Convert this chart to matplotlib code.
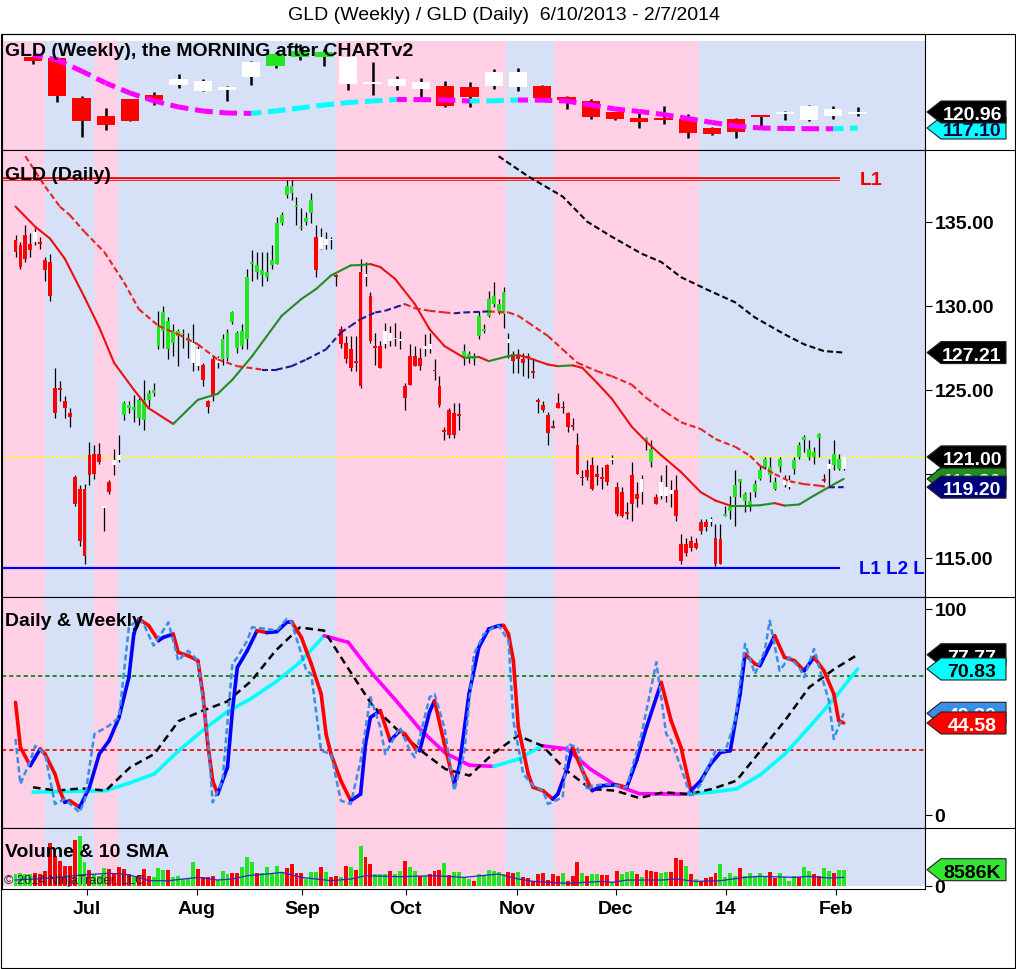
import numpy as np
import matplotlib
matplotlib.use('Agg')
import matplotlib.pyplot as plt
from matplotlib.collections import LineCollection
from matplotlib.patches import Polygon, Rectangle
from matplotlib.lines import Line2D
from matplotlib.transforms import IdentityTransform

plt.rcParams['font.family'] = ['Liberation Sans', 'DejaVu Sans']
plt.rcParams['lines.scale_dashes'] = False

# ---------------- data ----------------
title = "GLD (Weekly) / GLD (Daily)  6/10/2013 - 2/7/2014"

tick_pos = [14.5, 36.8, 58.1, 79.2, 101.7, 121.8, 144.1, 166.4]
tick_lab = ['Jul', 'Aug', 'Sep', 'Oct', 'Nov', 'Dec', '14', 'Feb']

PINK, BLUE = '#FFD0E6', '#D6E0F6'
shade_spans = [(-2.74, 6.0, PINK), (6.0, 15.9, BLUE), (15.9, 20.8, PINK),
               (20.8, 65.0, BLUE), (65.0, 99.5, PINK), (99.5, 109.2, BLUE),
               (109.2, 138.6, PINK), (138.6, 184.5, BLUE)]

# weekly candles
w_open = [134.3,134.0,124.3,120.0,124.1,125.1,127.5,126.0,126.3,129.4,132.1,134.2,134.2,127.7,127.7,127.2,126.5,127.2,127.0,127.2,
          127.0,127.2,124.6,123.6,121.0,119.5,119.5,119.3,117.1,119.3,120.2,120.5,119.0,120.0,120.5]
w_high = [134.4,134.3,124.8,121.9,124.2,125.8,130.1,128.9,127.2,133.3,135.5,137.4,136.2,134.4,133.0,129.6,129.2,128.4,128.2,131.3,
          131.6,127.5,124.8,124.1,121.0,121.0,122.4,120.5,117.3,119.5,120.2,121.2,122.6,122.4,122.2]
w_low = [132.5,123.4,114.9,116.6,118.7,122.6,126.7,126.0,123.6,127.5,131.6,133.5,132.1,126.3,125.1,126.3,124.6,122.2,122.2,126.5,
         126.0,124.0,121.7,119.3,119.0,117.1,118.1,114.7,115.4,114.7,117.1,119.0,118.8,119.3,120.0]
w_close = [133.2,124.8,118.8,117.8,118.8,123.9,128.9,128.4,127.0,133.0,134.9,135.7,135.4,134.2,128.2,128.9,128.2,122.4,124.6,130.6,
           130.6,124.3,123.9,119.8,119.3,118.5,119.0,115.9,115.7,116.1,119.8,121.0,122.4,121.7,120.96]
w_cols = "rrrrrrwwwwgggwwwwrrwwrrrrrrrrrrwwww"
w_ma = [134.71,133.51,130.85,127.96,125.54,123.61,122.17,121.20,120.72,120.62,121.20,121.92,122.65,123.25,123.61,123.98,123.95,
        123.86,123.61,123.66,123.86,123.81,123.61,122.65,121.68,121.08,120.36,119.39,118.43,117.58,117.10,116.98,116.93,116.91,117.10]
WK0, WK_STEP = 3.55, 4.92

# daily candles
d_open = [133.9,133.6,134.2,133.7,133.8,133.8,132.7,132.6,125.1,125.1,
          124.3,123.6,119.8,119.1,119.1,121.1,121.2,121.2,118.0,119.5,
          120.5,120.8,123.5,123.9,123.8,123.3,123.2,124.4,124.8,127.6,
          128.5,127.4,127.8,128.2,128.3,127.9,127.8,127.4,126.5,124.3,
          126.8,126.6,126.8,126.9,129.05,128.4,127.6,128.0,132.5,132.0,
          131.8,131.7,132.4,132.5,134.9,136.6,136.7,135.9,134.6,135.0,
          135.5,134.1,133.4,133.6,133.9,131.8,128.6,127.8,127.4,126.7,
          125.2,131.7,130.6,127.6,127.6,127.7,127.9,128.0,127.9,125.2,
          127.0,127.0,126.9,127.4,127.4,126.2,125.2,122.6,123.8,123.6,
          123.5,126.9,126.9,126.8,128.2,128.5,129.4,130.1,129.7,129.5,
          127.8,127.1,127.0,126.8,127.0,126.1,124.35,124.1,123.5,122.8,
          124.2,124.0,123.6,122.9,121.7,119.8,120.2,120.5,120.0,119.8,
          120.5,120.9,119.2,118.9,117.7,119.9,118.8,118.9,121.8,120.7,
          118.6,118.7,118.7,119.0,119.0,115.8,115.8,116.0,115.9,117.1,
          117.1,117.3,116.2,116.1,117.5,117.8,118.6,119.5,118.4,118.0,
          118.9,119.7,120.4,119.9,119.1,120.4,119.3,119.2,120.3,121.0,
          122.0,121.0,121.0,122.15,119.6,120.3,120.5,120.3,120.3]
d_high = [134.2,133.8,134.8,134.3,134.6,134.1,132.9,133.1,126.3,125.5,
          124.6,123.9,119.9,119.3,119.4,121.9,121.7,121.8,118.1,119.6,
          121.5,122.3,124.3,124.3,124.7,124.5,125.6,125.0,125.4,129.7,
          130.0,129.3,128.9,128.6,128.6,128.4,128.9,127.6,126.6,124.4,
          127.0,127.0,128.3,128.6,129.7,128.5,128.9,132.2,133.3,133.2,
          133.2,133.2,133.6,135.3,135.6,137.5,137.5,136.5,135.8,135.6,
          136.7,134.8,134.6,134.4,134.1,131.9,128.8,128.2,128.2,128.2,
          132.8,132.6,130.8,128.4,127.9,129.0,128.8,129.0,128.5,125.4,
          127.7,127.6,127.5,128.3,128.4,126.8,125.8,122.8,123.9,124.2,
          124.2,127.7,127.3,127.2,129.7,128.9,130.9,131.4,130.4,131.1,
          128.4,127.3,127.4,127.2,127.2,126.9,124.5,124.3,123.7,123.2,
          124.8,124.3,123.7,123.3,122.4,120.2,120.8,121.0,120.5,120.4,
          120.6,121.1,119.5,119.2,118.3,120.7,119.5,119.9,122.2,122.0,
          118.8,119.9,120.5,119.6,119.9,116.4,116.2,116.3,116.2,117.3,
          117.3,117.4,117.0,117.0,118.1,118.7,120.2,119.7,118.9,118.9,
          119.6,120.5,121.0,121.0,119.8,121.0,119.9,119.9,121.0,121.9,
          122.3,122.0,121.6,122.4,120.0,120.9,122.0,121.2,121.0]
d_low = [132.9,132.2,132.6,132.9,133.6,133.4,131.5,130.3,123.3,124.3,
         123.3,122.8,118.1,115.7,114.6,119.3,119.7,120.6,116.6,118.8,
         119.9,120.7,123.2,123.6,123.1,122.9,122.6,124.0,124.6,127.4,
         127.5,126.8,127.0,126.4,127.5,126.9,126.1,126.2,125.2,123.6,
         124.3,126.3,126.5,126.7,128.9,127.2,127.4,127.4,131.5,131.6,
         131.2,131.5,132.2,132.5,134.8,136.4,136.3,134.8,134.5,134.8,
         134.9,131.7,133.4,133.4,133.4,131.2,127.5,126.6,126.1,126.1,
         125.1,131.2,127.8,126.5,126.3,127.5,127.6,127.6,127.4,123.8,
         125.3,126.4,126.2,127.0,127.2,125.6,124.0,122.0,122.1,122.1,
         122.6,126.5,126.6,126.5,128.0,128.4,129.3,129.9,129.5,128.7,
         126.9,126.0,126.0,125.8,125.7,125.7,123.6,123.7,121.7,122.7,
         123.9,123.6,122.5,122.6,120.0,119.3,119.6,119.0,119.3,119.1,
         119.3,120.6,117.5,117.4,117.3,117.2,118.0,118.2,121.4,120.4,
         118.2,118.5,118.3,118.0,117.2,114.6,115.1,115.4,115.5,116.4,
         116.6,116.9,114.5,114.6,117.5,117.3,116.9,118.6,117.7,117.8,
         118.6,119.6,120.3,119.5,119.0,120.1,119.2,119.1,120.0,120.9,
         121.3,120.8,120.6,121.0,119.5,119.2,120.2,120.2,120.2]
d_close = [133.2,132.3,132.8,133.3,134.4,133.7,132.1,130.6,123.6,125.0,
           123.9,123.4,118.2,116.0,115.1,119.9,120.0,120.7,118.05,118.9,
           120.8,121.1,124.2,124.1,124.0,124.4,124.4,124.8,125.0,128.8,
           129.6,129.1,128.5,128.5,128.4,128.1,126.6,126.4,125.6,124.0,
           124.7,126.9,128.0,128.4,129.6,127.5,128.5,131.7,132.6,132.4,
           132.1,132.0,132.7,134.9,135.4,137.1,137.1,136.0,134.7,135.2,
           136.3,132.1,134.1,134.0,134.0,131.7,127.7,126.8,126.3,126.6,
           132.0,131.9,127.9,127.5,126.3,128.5,128.4,128.1,128.0,124.5,
           125.3,126.4,126.4,127.6,127.7,126.1,124.1,122.5,122.3,122.3,
           123.45,127.3,127.1,127.0,129.4,128.6,130.4,130.6,130.1,130.8,
           128.0,126.7,126.8,126.6,126.95,126.0,124.3,123.8,122.4,122.75,
           123.9,123.9,122.8,122.8,120.0,119.75,119.8,119.1,119.8,119.7,
           119.5,120.85,117.6,117.5,117.6,118.2,118.5,119.7,122.1,121.5,
           118.2,119.5,119.2,118.8,117.5,114.8,115.3,115.6,115.6,116.6,
           116.8,117.1,114.6,114.6,117.6,118.0,119.3,119.7,118.8,118.4,
           119.4,120.2,120.9,120.4,119.5,120.9,119.6,119.6,120.8,121.7,
           122.2,121.5,121.3,122.35,119.65,120.6,121.2,120.9,121.0]
d_cols = ("rrrrwrrrrr" "rrrrrrrrwr" "wwgggggggg" "ggggggwwrr" "rwgggggggg"
          "gggggggggg" "grwwwrrrrr" "rwrrrwwwwr" "rrrwwrrrrr" "rggggggggg"
          "wrrrrrrrrr" "rrrrrrrrrr" "rwrrrrrwgg" "rwwwrrrrrr" "rwrrgggggg"
          "ggggggwwgg" "ggggrwggw")

fast_i = [0, 4, 7, 10, 14, 17, 20, 24, 27, 32, 37, 41, 44, 48, 51, 54, 58, 61, 64, 68, 70, 72, 74, 77, 81, 84, 87, 91, 94, 96,
          100, 102, 104, 108, 110, 113, 115, 118, 121, 125, 128, 131, 135, 139, 142, 145, 149, 151, 154, 156, 159, 162, 165, 168]
fast_v = [135.9, 134.7, 134.0, 132.8, 130.5, 128.7, 126.6, 125.0, 123.9, 122.96, 124.4, 124.75, 125.6, 127.0, 128.2, 129.4,
          130.4, 131.0, 131.8, 132.4, 132.42, 132.48, 132.3, 131.6, 130.1, 128.6, 127.6, 126.9, 126.95, 126.7, 127.0, 127.06,
          126.9, 126.5, 126.4, 126.45, 126.3, 125.4, 124.45, 122.8, 121.9, 121.1, 120.1, 118.9, 118.4, 118.1, 118.1, 118.12,
          118.25, 118.1, 118.17, 118.7, 119.2, 119.69]
slow_i = [2, 6, 9, 11, 14, 18, 22, 25, 29, 33, 37, 41, 45, 50, 53, 56, 59, 63, 66, 68, 70, 73, 75, 77, 79, 81, 84, 87, 89, 91,
          96, 100, 102, 104, 108, 111, 114, 118, 121, 125, 128, 132, 135, 139, 142, 146, 149, 151, 154, 157, 160, 163, 165, 168]
slow_v = [138.9, 137.1, 135.9, 135.4, 134.4, 133.2, 131.4, 129.8, 128.8, 128.3, 127.7, 126.8, 126.4, 126.2, 126.2, 126.4,
          126.8, 127.4, 128.4, 128.8, 129.2, 129.6, 129.7, 129.9, 130.1, 129.85, 129.7, 129.6, 129.55, 129.6, 129.66, 129.6,
          129.4, 129.0, 128.2, 127.4, 126.6, 126.1, 125.8, 125.3, 124.5, 123.65, 123.06, 122.66, 122.06, 121.6, 121.07,
          120.48, 119.98, 119.55, 119.38, 119.29, 119.19, 119.2]
sma200_i = [98, 104, 111, 116, 121, 127, 131, 135, 140, 146, 150, 156, 160, 164, 168]
sma200_v = [138.9, 137.7, 136.5, 135.0, 134.1, 133.1, 132.6, 131.7, 131.0, 130.2, 129.3, 128.3, 127.7, 127.3, 127.21]
L1_TOP, L_BOTTOM, LINE_END = 137.54, 114.37, 167.2
last_close = 121.0

# oscillator
sol_i = [0, 1, 3, 4, 5, 6, 8, 9, 10, 11, 13, 15, 17, 19, 21, 23, 24, 25, 27, 29, 30, 32, 33, 35, 37, 38, 39, 40, 41, 43,
         44, 45, 47, 49, 51, 53, 55, 56, 58, 59, 60, 62, 63, 64, 66, 68, 70, 71, 72, 74, 76, 78, 79, 81, 82, 84, 85, 87, 89, 90,
         92, 94, 96, 98, 99, 100, 101, 102, 104, 105, 107, 109, 110, 112, 113, 115, 117, 119, 122, 124, 126, 128, 131, 133,
         135, 137, 139, 141, 143, 145, 147, 148, 150, 151, 154, 156, 158, 160, 162, 164, 166, 167, 168]
sol_v = [54.6, 32.7, 23.8, 27.9, 31.9, 29.5, 19.8, 11.7, 6.0, 6.8, 3.6, 13.3, 29.5, 36.0, 47.3, 66.8, 87.8, 95.1, 92.0, 84.6,
         86.2, 87.8, 78.9, 77.3, 74.9, 58.7, 34.4, 16.5, 10.0, 23.0, 50.6, 71.6, 79.7, 89.5, 88.5, 89.0, 93.5, 93.8, 86.2, 79.7,
         73.3, 58.7, 39.2, 29.5, 16.5, 6.8, 10.0, 34.4, 47.3, 50.6, 36.0, 40.8, 39.2, 32.7, 31.1, 50.0, 55.4, 34.4, 14.9, 23.0,
         58.7, 81.4, 90.3, 91.9, 92.0, 87.8, 74.9, 42.5, 19.8, 13.3, 11.7, 7.6, 10.0, 23.0, 32.7, 21.4, 11.7, 14.1, 14.5, 13.3,
         26.3, 42.5, 64.3, 45.7, 32.7, 11.7, 16.5, 24.6, 30.3, 31.1, 58.7, 78.1, 73.3, 72.4, 87.0, 76.5, 74.9, 70.0, 76.5, 70.0,
         58.7, 45.7, 44.58]
raw_i = [0, 1, 3, 4, 6, 8, 10, 13, 14, 16, 19, 21, 23, 25, 26, 28, 31, 32, 33, 35, 37, 39, 40, 42, 44, 45, 47, 48, 51, 53,
         55, 56, 58, 59, 60, 62, 64, 66, 68, 70, 72, 74, 75, 78, 80, 81, 84, 85, 87, 89, 91, 93, 95, 97, 98, 100, 101, 103, 105,
         107, 108, 111, 112, 114, 116, 117, 120, 122, 124, 127, 130, 132, 133, 135, 137, 139, 142, 144, 146, 148, 150, 152,
         153, 155, 157, 159, 160, 162, 164, 165, 166, 168]
raw_v = [36.8, 14.9, 26.3, 33.5, 29.5, 5.2, 7.6, 1.1, 6.8, 39.2, 43.3, 47.3, 91.1, 95.1, 92.7, 82.2, 93.5, 84.6, 74.9, 79.7,
         74.9, 37.6, 6.0, 16.5, 73.3, 76.5, 84.6, 91.1, 90.3, 89.5, 95.1, 93.5, 78.1, 70.0, 68.4, 31.1, 29.5, 6.8, 5.2, 26.3,
         57.1, 42.5, 29.5, 42.5, 31.1, 27.9, 57.1, 58.7, 42.5, 11.7, 29.5, 78.1, 87.8, 91.1, 91.9, 84.6, 45.7, 19.8, 14.1,
         11.7, 5.2, 8.4, 34.4, 32.7, 11.7, 14.1, 14.9, 14.1, 13.3, 39.2, 74.1, 39.2, 36.0, 23.0, 8.4, 14.9, 31.1, 31.1, 45.7,
         83.0, 68.4, 79.7, 94.3, 70.0, 76.5, 71.6, 66.8, 80.6, 63.5, 55.4, 36.8, 49.3]
wk_black = [13.3, 11.7, 12.8, 11.7, 23.0, 29.5, 45.5, 50.6, 55.0, 65.0, 79.7, 91.0, 89.5, 71.0, 53.0, 41.5, 31.1, 22.2,
            19.0, 30.0, 38.4, 33.5, 21.4, 12.5, 11.7, 8.1, 10.9, 10.0, 12.5, 16.5, 31.1, 45.7, 61.9, 70.5, 77.77]
wk_cyan = [11.0, 11.2, 11.4, 11.7, 15.5, 19.8, 31.0, 41.0, 50.0, 56.5, 64.5, 74.0, 87.0, 83.8, 68.4, 55.0, 41.0, 30.0,
           24.0, 23.5, 27.0, 33.5, 32.0, 22.0, 14.5, 10.2, 10.1, 10.0, 11.0, 12.5, 19.5, 29.5, 42.5, 56.0, 70.83]
OB, OS = 67.6, 31.6

# volume (thousands)
vol = [6262, 6619, 6262, 6262, 6619, 6262, 8051, 22720, 16101, 13418,
       10734, 10734, 24509, 26835, 12523, 8408, 6262, 5367, 9482, 8945,
       6262, 10197, 8945, 6262, 4830, 5904, 8945, 5367, 4830, 9482,
       8408, 8587, 4473, 5367, 3578, 3578, 12881, 8945, 4830, 4473,
       5367, 3041, 7693, 6262, 6619, 6619, 10197, 15564, 12881, 6798,
       6619, 9840, 6619, 10734, 6619, 9303, 11629, 6619, 6619, 3578,
       7514, 7156, 9840, 7514, 4473, 5367, 4830, 10734, 10197, 8587,
       21468, 15564, 11629, 6262, 6262, 6262, 8051, 6262, 8051, 13418,
       10197, 8051, 5367, 5367, 6262, 8051, 8408, 11986, 5904, 7156,
       7156, 4473, 3578, 2684, 6262, 5367, 8408, 7693, 7156, 6262,
       7514, 6619, 7514, 4473, 4115, 2684, 6262, 6798, 3041, 6262,
       5367, 6798, 2684, 5009, 12523, 6619, 5367, 6262, 6262, 5904,
       5904, 1789, 8051, 6262, 7514, 8051, 6262, 4830, 8408, 8051,
       7514, 6798, 7514, 7156, 14849, 13775, 10734, 6262, 3578, 2684,
       3936, 4473, 6619, 11629, 4473, 6619, 5367, 9482, 5367, 6619,
       5367, 6619, 5367, 7156, 4115, 6619, 4473, 2326, 5367, 4473,
       9840, 8051, 6262, 5009, 9303, 8051, 6619, 8408, 8586]
vol_cols = ("ggggrrrrrr" "rrrggrgggr" "rrrrgrrrgg" "grgggggrrr" "rgggrrgggr"
            "gggggrrrrg" "ggrgrrgrgr" "grrgggrggr" "ggrgrrrgrg" "gggrgggggg"
            "rrgrrrrrrr" "rgrrrgrggr" "rgrgggrgrr" "rggrrrgrgr" "rrrggggrgg"
            "gggrrggggr" "ggrrggrgg")
vsma_i = [0, 6, 10, 14, 19, 22, 25, 27, 31, 37, 41, 44, 47, 51, 54, 58, 64, 68, 71, 78, 85, 91, 98, 102, 105, 112, 119,
          121, 124, 131, 134, 138, 143, 148, 151, 158, 161, 165, 168]
vsma_v = [3040, 3940, 4830, 5900, 6620, 6260, 4470, 2680, 2680, 4470, 3040, 3580, 5370, 6260, 7160, 4470, 2680, 3580,
          5370, 4830, 5370, 4470, 6260, 3580, 2330, 1250, 2330, 1790, 3040, 3040, 3580, 2330, 2680, 4470, 5010, 4470, 5010,
          4115, 4470]

# ---------------- figure ----------------
W, H = 1016, 970
fig = plt.figure(figsize=(W / 100, H / 100), dpi=100)
fig.patch.set_facecolor('white')


def rect(top, bottom, left=2, right=925):
    return [left / W, 1 - bottom / H, (right - left) / W, (bottom - top) / H]


ax_w = fig.add_axes(rect(35, 151))
ax_d = fig.add_axes(rect(151, 598))
ax_o = fig.add_axes(rect(598, 829))
ax_v = fig.add_axes(rect(829, 890))

XLIM = (-2.74, 184.5)
ax_w.set_ylim(111.79, 139.78)
ax_d.set_ylim(112.66, 139.27)
ax_o.set_ylim(-6.47, 105.83)
ax_v.set_ylim(-1771, 30962)

shade_rng = {ax_w: (0, 0.94), ax_d: (0, 1), ax_o: (0, 1), ax_v: (0.054, 1)}
for ax in (ax_w, ax_d, ax_o, ax_v):
    ax.set_xlim(XLIM)
    ax.set_facecolor('white')
    for s in ax.spines.values():
        s.set_linewidth(0.8)
    ax.tick_params(axis='x', bottom=False, labelbottom=False)
    ax.yaxis.tick_right()
    ax.tick_params(axis='y', direction='out', length=5, width=0.8, pad=2, labelsize=14)
    y0, y1 = shade_rng[ax]
    for a, b, c in shade_spans:
        ax.axvspan(a, b, ymin=y0, ymax=y1, color=c, lw=0, zorder=0)

COL = {'r': '#FF0000', 'g': '#22E622', 'w': '#FFFFFF'}


def draw_candles(ax, x, o, h, l, c, cols, width, wick_lw, min_h):
    o, h, l, c = map(np.asarray, (o, h, l, c))
    lo, hi = np.minimum(o, c), np.maximum(o, c)
    ht = np.maximum(hi - lo, min_h)
    mid = (lo + hi) / 2
    ax.vlines(x, l, h, colors='black', linewidth=wick_lw, zorder=3)
    ax.bar(x, ht, width, bottom=mid - ht / 2, color=[COL[k] for k in cols], linewidth=0, zorder=4)


def slope_line(ax, x, y, up, dn, lw, ls='-', zorder=5, cap='butt'):
    x, y = np.asarray(x, float), np.asarray(y, float)
    pts = np.column_stack([x, y])
    segs = np.stack([pts[:-1], pts[1:]], axis=1)
    cols = [up if y[k + 1] >= y[k] else dn for k in range(len(y) - 1)]
    ax.add_collection(LineCollection(segs, colors=cols, linewidths=lw, linestyles=ls,
                                     zorder=zorder, capstyle=cap, joinstyle='round'))


# weekly panel
wk_x = WK0 + WK_STEP * np.arange(len(w_open))
draw_candles(ax_w, wk_x, w_open, w_high, w_low, w_close, w_cols, 3.7, 1.8, 0.5)
slope_line(ax_w, wk_x, w_ma, '#00FFFF', '#FF00FF', 3.6, ls=(0, (7.2, 4.8)))
ax_w.set_yticks([])
ax_w.text(0.0035, 0.862, "GLD (Weekly), the MORNING after CHARTv2", transform=ax_w.transAxes,
          fontsize=14, fontweight='bold', va='center', ha='left', zorder=10)

# daily panel
d_x = np.arange(len(d_open))
ax_d.hlines(L1_TOP, XLIM[0], LINE_END, color='#EE0000', lw=2.6, zorder=2)
ax_d.hlines(L1_TOP, XLIM[0], LINE_END, color='#FFE8F0', lw=0.6, zorder=2)
ax_d.hlines(L_BOTTOM, XLIM[0], LINE_END, color='#0000EE', lw=1.6, zorder=2)
ax_d.axhline(last_close, color='#FFFF20', lw=1.6, ls=(0, (1.5, 1.5)), zorder=2)
draw_candles(ax_d, d_x, d_open, d_high, d_low, d_close, d_cols, 0.78, 0.9, 0.1)
slope_line(ax_d, fast_i, fast_v, '#228B22', '#E81010', 1.5, cap='round')
slope_line(ax_d, slow_i, slow_v, '#1A1A8C', '#E82020', 1.5, ls=(0, (4.3, 2.3)))
ax_d.plot(sma200_i, sma200_v, color='black', lw=1.5, ls=(0, (4.3, 2.3)), zorder=5)
ax_d.text(171.2, L1_TOP, "L1", color='#EE0000', fontsize=14, fontweight='bold', va='center', ha='left', zorder=10)
ax_d.text(171.2, L_BOTTOM, "L1 L2 L3", color='#0000EE', fontsize=13.5, fontweight='bold', va='center', ha='left',
          zorder=10, clip_on=True)
ax_d.set_yticks([115, 120, 125, 130, 135])
ax_d.set_yticklabels(['115.00', '120.00', '125.00', '130.00', '135.00'], fontweight='bold')
ax_d.text(0.0035, 0.946, "GLD (Daily)", transform=ax_d.transAxes, fontsize=14, fontweight='bold',
          va='center', ha='left', zorder=10)

# oscillator panel
ax_o.axhline(OB, color='#008000', lw=1.2, ls=(0, (3, 2.2)), zorder=2)
ax_o.axhline(OS, color='#E00000', lw=1.2, ls=(0, (3, 2.2)), zorder=2)
slope_line(ax_o, wk_x, wk_cyan, '#00FFFF', '#FF00FF', 2.6, cap='round', zorder=3)
ax_o.plot(wk_x, wk_black, color='black', lw=1.8, ls=(0, (5.5, 3.5)), zorder=4)
slope_line(ax_o, sol_i, sol_v, '#0000FF', '#FF0000', 2.6, cap='round', zorder=5)
ax_o.plot(raw_i, raw_v, color='#3A8EE6', lw=1.8, ls=(0, (4.3, 2.3)), zorder=6)
ax_o.set_yticks([0, 100])
ax_o.set_yticklabels(['0', '100'], fontweight='bold')
ax_o.text(0.0035, 0.90, "Daily & Weekly", transform=ax_o.transAxes, fontsize=14, fontweight='bold',
          va='center', ha='left', zorder=10)

# volume panel
ax_v.bar(d_x, vol, 0.8, color=[COL[k] for k in vol_cols], linewidth=0, zorder=3)
ax_v.plot(vsma_i, vsma_v, color='#2828C8', lw=0.9, zorder=4)
ax_v.set_yticks([0])
ax_v.set_yticklabels(['0'], fontweight='bold')
ax_v.set_xticks(tick_pos)
ax_v.set_xticklabels(tick_lab, fontweight='bold')
ax_v.tick_params(axis='x', bottom=True, labelbottom=True, direction='out', length=4, width=0.8, pad=4, labelsize=14)
ax_v.text(0.0035, 0.62, "Volume & 10 SMA", transform=ax_v.transAxes, fontsize=14, fontweight='bold',
          va='center', ha='left', zorder=10)
ax_v.text(0.002, 0.15, "\u00a9 2014 NinjaTrader, LLC", transform=ax_v.transAxes, fontsize=9.2,
          color='#222222', va='center', ha='left', zorder=10)

fig.text(0.496, 1 - 16 / H, title, ha='center', va='center', fontsize=14)

# frame lines
idt = IdentityTransform()
fig.add_artist(Rectangle((0.5, H - 968.5), 1014, 934, fill=False, ec='black', lw=0.8, transform=idt, zorder=30))
for yy in (151, 598, 829):
    fig.add_artist(Line2D([925, 1015], [H - yy, H - yy], color='black', lw=0.8, transform=idt, zorder=30))

# value tags on the price scale (stacked like the reference, later ones on top)
ztag = [20]


def tag(ax, val, s, fc, tc):
    yd = ax.transData.transform((0, val))[1]
    x0, x1, x2, hh = 927, 941, 1006, 11
    ztag[0] += 2
    fig.add_artist(Polygon([(x0, yd), (x1, yd + hh), (x2, yd + hh), (x2, yd - hh), (x1, yd - hh)], closed=True,
                           fc=fc, ec='#222222', lw=0.8, transform=idt, zorder=ztag[0]))
    fig.text(972, yd - 7, s, transform=idt, ha='center', va='baseline', color=tc, fontsize=14,
             fontweight='bold', zorder=ztag[0] + 1)


tag(ax_w, w_ma[-1], f"{w_ma[-1]:.2f}", '#00FFFF', '#000040')
tag(ax_w, w_close[-1], f"{w_close[-1]:.2f}", '#000000', 'white')
tag(ax_d, fast_v[-1], "119.80", '#1F8F1F', 'white')
tag(ax_d, slow_v[-1], f"{slow_v[-1]:.2f}", '#00007F', 'white')
tag(ax_d, d_close[-1], f"{d_close[-1]:.2f}", '#000000', 'white')
tag(ax_d, sma200_v[-1], f"{sma200_v[-1]:.2f}", '#000000', 'white')
tag(ax_o, wk_black[-1], f"{wk_black[-1]:.2f}", '#000000', 'white')
tag(ax_o, wk_cyan[-1], f"{wk_cyan[-1]:.2f}", '#00FFFF', '#000000')
tag(ax_o, raw_v[-1], f"{raw_v[-1]:.2f}", '#3A8EE6', 'white')
tag(ax_o, sol_v[-1], f"{sol_v[-1]:.2f}", '#FF0000', 'white')
tag(ax_v, vol[-1], f"{vol[-1]}K", '#33E633', '#000000')

fig.savefig('out.png', dpi=100)
